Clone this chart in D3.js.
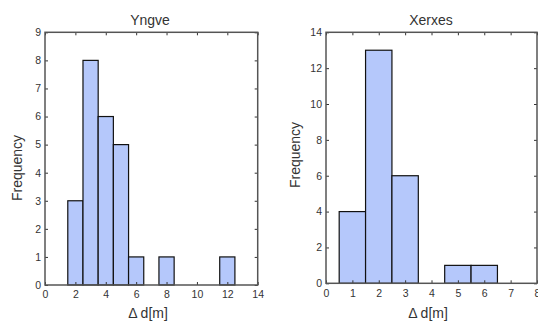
<!DOCTYPE html>
<html>
<head>
<meta charset="utf-8">
<script src="https://cdn.jsdelivr.net/npm/d3@7"></script>
<style>
  body { margin: 0; background: #fff; }
  text { font-family: "Liberation Sans", Arial, sans-serif; fill: #333; }
</style>
</head>
<body>
<svg id="chart" width="538" height="323"></svg>
<script>
// histogram data (bin centres, counts)
const yngveBins = [2, 3, 4, 5, 6, 8, 12];
const yngveCounts = [3, 8, 6, 5, 1, 1, 1];
const yngveXTicks = [0, 2, 4, 6, 8, 10, 12, 14];
const yngveYTicks = [0, 1, 2, 3, 4, 5, 6, 7, 8, 9];

const xerxesBins = [1, 2, 3, 5, 6];
const xerxesCounts = [4, 13, 6, 1, 1];
const xerxesXTicks = [0, 1, 2, 3, 4, 5, 6, 7, 8];
const xerxesYTicks = [0, 2, 4, 6, 8, 10, 12, 14];

const svg = d3.select('#chart');

function drawPanel(opts) {
    const x = d3.scaleLinear().domain(opts.xDomain).range([opts.left, opts.right]);
    const y = d3.scaleLinear().domain(opts.yDomain).range([opts.bottom, opts.top]);
    const g = svg.append('g');

    // bars
    const data = opts.bins.map((b, i) => ({ c: b, n: opts.counts[i] }));
    g.selectAll('rect.bar')
        .data(data)
        .enter().append('rect')
        .attr('class', 'bar')
        .attr('x', d => x(d.c - 0.5))
        .attr('width', d => x(d.c + 0.5) - x(d.c - 0.5))
        .attr('y', d => y(d.n))
        .attr('height', d => y(0) - y(d.n))
        .attr('fill', '#b5c8fb')
        .attr('stroke', '#111')
        .attr('stroke-width', 1.2);

    // inward ticks on all four sides
    const tickLen = 3;
    const xAxisB = d3.axisBottom(x).tickValues(opts.xTicks).tickSize(-tickLen).tickPadding(6).tickSizeOuter(0);
    const xAxisT = d3.axisTop(x).tickValues(opts.xTicks).tickSize(-tickLen).tickFormat('').tickSizeOuter(0);
    const yAxisL = d3.axisLeft(y).tickValues(opts.yTicks).tickSize(-tickLen).tickPadding(4).tickSizeOuter(0);
    const yAxisR = d3.axisRight(y).tickValues(opts.yTicks).tickSize(-tickLen).tickFormat('').tickSizeOuter(0);

    const axes = [
        g.append('g').attr('transform', `translate(0,${opts.bottom})`).call(xAxisB),
        g.append('g').attr('transform', `translate(0,${opts.top})`).call(xAxisT),
        g.append('g').attr('transform', `translate(${opts.left},0)`).call(yAxisL),
        g.append('g').attr('transform', `translate(${opts.right},0)`).call(yAxisR)
    ];
    axes.forEach(a => {
        a.select('.domain').remove();
        a.selectAll('line').attr('stroke', '#333');
        a.selectAll('text').attr('font-size', 10.5).style('font-family', '"Liberation Sans", Arial, sans-serif').attr('fill', '#333');
    });

    // box
    g.append('rect')
        .attr('x', opts.left).attr('y', opts.top)
        .attr('width', opts.right - opts.left).attr('height', opts.bottom - opts.top)
        .attr('fill', 'none').attr('stroke', '#555').attr('stroke-width', 1.5);

    // title and labels
    g.append('text')
        .attr('x', opts.titleX).attr('y', 25)
        .attr('text-anchor', 'middle').attr('font-size', 14)
        .text(opts.title);
    g.append('text')
        .attr('x', opts.xLabelX).attr('y', 318)
        .attr('text-anchor', 'middle').attr('font-size', 14)
        .text('Δ d[m]');
    g.append('text')
        .attr('transform', `translate(${opts.yLabelX},${opts.yLabelY}) rotate(-90)`)
        .attr('text-anchor', 'middle').attr('font-size', 14)
        .text('Frequency');
}

drawPanel({
    bins: yngveBins, counts: yngveCounts,
    xDomain: [0, 14], yDomain: [0, 9],
    xTicks: yngveXTicks, yTicks: yngveYTicks,
    left: 45, right: 257.7, top: 32.3, bottom: 285,
    title: 'Yngve', titleX: 150, xLabelX: 148,
    yLabelX: 22, yLabelY: 168
});

drawPanel({
    bins: xerxesBins, counts: xerxesCounts,
    xDomain: [0, 8], yDomain: [0, 14],
    xTicks: xerxesXTicks, yTicks: xerxesYTicks,
    left: 326, right: 537, top: 32.3, bottom: 283.3,
    title: 'Xerxes', titleX: 431, xLabelX: 428,
    yLabelX: 300, yLabelY: 155
});
</script>
</body>
</html>
